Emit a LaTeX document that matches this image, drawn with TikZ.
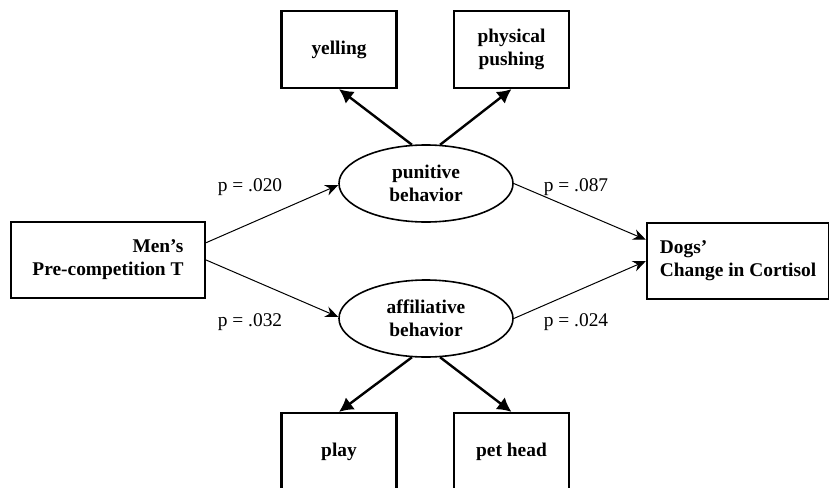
\documentclass[tikz,border=0pt]{standalone}
\usepackage{fontspec}
\setmainfont{Liberation Serif}
\usepackage{tikz}
\usetikzlibrary{shapes.geometric, arrows.meta, positioning}

\begin{document}
\begin{tikzpicture}[
    x=0.5pt, y=-0.5pt,
    every node/.style={font=\fontsize{9.7}{11.5}\selectfont},
    varbox/.style={rectangle, draw, line width=1.1pt, minimum width=97pt, minimum height=38pt, font=\fontsize{9.7}{11.5}\selectfont\bfseries},
    itembox/.style={rectangle, draw, line width=1.1pt, minimum width=57.5pt, minimum height=38.5pt, align=center, font=\fontsize{9.7}{11.5}\selectfont\bfseries},
    latent/.style={ellipse, draw, line width=0.8pt, minimum width=87pt, minimum height=38.5pt, inner sep=0pt, align=center, font=\fontsize{9.7}{11.5}\selectfont\bfseries},
    patharrow/.style={-{Stealth[length=6.5pt, width=5.5pt]}, line width=0.5pt},
    loadarrow/.style={-{Latex[length=7pt, width=7.5pt]}, line width=1.2pt},
    plabel/.style={inner sep=0pt}
]
    \useasboundingbox (0,0) rectangle (829,487);
    \clip (0,0) rectangle (829,487);

    % Observed variables
    \node[varbox, align=right] (men) at (108, 260) {Men's\\Pre-competition T};
    \node[varbox, align=left, minimum width=91pt] (dogs) at (738, 261) {Dogs'\\Change in Cortisol};

    % Latent behaviors
    \node[latent] (pun) at (426, 183.5) {punitive\\behavior};
    \node[latent] (aff) at (426, 318.5) {affiliative\\behavior};

    % Indicator boxes
    \node[itembox] (yell) at (339, 49.5) {yelling};
    \node[itembox] (push) at (511.5, 49.5) {physical\\pushing};
    \node[itembox] (play) at (339, 451.5) {play};
    \node[itembox] (pet) at (511.5, 451.5) {pet head};

    % Paths
    \draw[patharrow] (men.10.5) -- (pun.181);
    \draw[patharrow] (men.east) -- (aff.179);
    \draw[patharrow] (pun.east) -- (dogs.167.6);
    \draw[patharrow] (aff.east) -- (dogs.west);

    \draw[loadarrow] (pun.110) -- (yell.south);
    \draw[loadarrow] (pun.70) -- (push.south);
    \draw[loadarrow] (aff.250) -- (play.north);
    \draw[loadarrow] (aff.290) -- (pet.north);

    % p values
    \node[plabel] (p1) at (250, 187) {p = .020};
    \node[plabel] (p2) at (576, 187) {p = .087};
    \node[plabel] (p3) at (250, 322) {p = .032};
    \node[plabel] (p4) at (576, 322) {p = .024};

\end{tikzpicture}
\end{document}
